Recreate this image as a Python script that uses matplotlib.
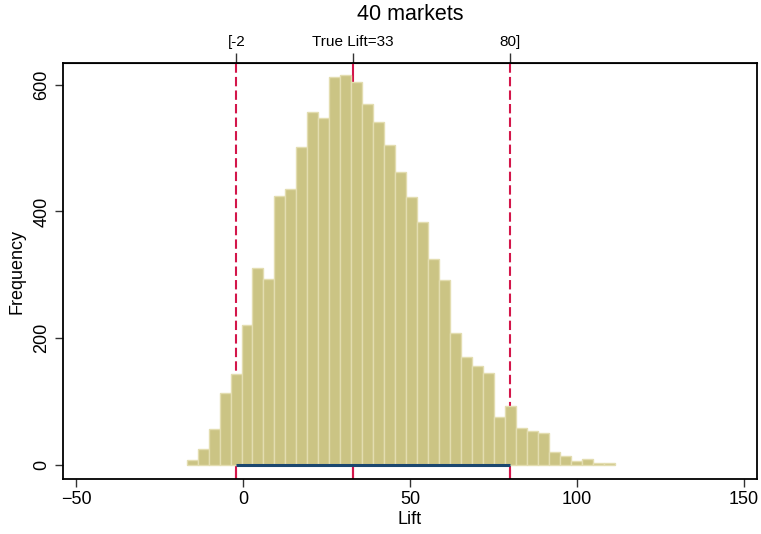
import numpy as np
import matplotlib
matplotlib.use("Agg")
import matplotlib.pyplot as plt

plt.rcParams['font.family'] = ['Liberation Sans', 'DejaVu Sans']

# simulated lift estimates, 40 markets: histogram bins and counts
bin_start = -16.9
bin_width = 3.29
counts = [8, 26, 57, 113, 143, 221, 310, 293, 424, 435,
          501, 557, 547, 612, 615, 604, 570, 541, 505, 462,
          422, 383, 325, 292, 209, 170, 156, 145, 75, 93,
          59, 54, 50, 21, 14, 7, 9, 3, 3]

ci_low = -2
ci_high = 80
true_lift = 33
top_labels = ['[-2', 'True Lift=33', '80]']

x_ticks = [-50, 0, 50, 100, 150]
y_ticks = [0, 200, 400, 600]

red = '#d3164a'
navy = '#1a476f'

edges = bin_start + bin_width * np.arange(len(counts) + 1)

fig = plt.figure(figsize=(7.61, 5.34), dpi=100)
ax = fig.add_axes([63 / 761, 1 - 479 / 534, 694 / 761, 416 / 534])

# interval bounds (dashed) and true value (solid), behind the bars
ax.axvline(ci_low, color=red, lw=1.5, ls=(0, (4.5, 2)), zorder=1)
ax.axvline(ci_high, color=red, lw=1.5, ls=(0, (4.5, 2)), zorder=1)
ax.axvline(true_lift, color=red, lw=1.5, zorder=1)
ax.vlines([ci_low, true_lift, ci_high], -22, 0, color=red, lw=1.5, zorder=1)

ax.bar(edges[:-1], counts, width=bin_width, align='edge',
       color='#cbc484', edgecolor='#e3ddb0', linewidth=1.0, zorder=2)

# interval shown along the baseline
ax.plot([ci_low, ci_high], [0, 0], color=navy, lw=2.2, zorder=3,
        solid_capstyle='butt')

ax.set_xlim(-53.9, 153.9)
ax.set_ylim(-22, 634)
ax.set_xticks(x_ticks)
ax.set_yticks(y_ticks)
ax.tick_params(axis='both', direction='out', length=6, width=1.0,
               color='#333333', labelsize=13, pad=3)
ax.tick_params(axis='y', labelrotation=90)
for lab in ax.get_yticklabels():
    lab.set_va('center')

for s in ax.spines.values():
    s.set_linewidth(1.3)
    s.set_color('black')

ax.set_xlabel('Lift', fontsize=13, labelpad=2)
ax.set_ylabel('Frequency', fontsize=13, labelpad=6)

top = ax.secondary_xaxis('top')
top.set_xticks([ci_low, true_lift, ci_high])
top.set_xticklabels(top_labels)
top.tick_params(direction='out', length=7, width=1.0, color='#333333',
                labelsize=11, pad=3)

fig.text((63 + 757) / 2 / 761, 1 - 15 / 534, '40 markets', fontsize=15.5,
         ha='center', va='center')

fig.savefig('out.png', dpi=100)
